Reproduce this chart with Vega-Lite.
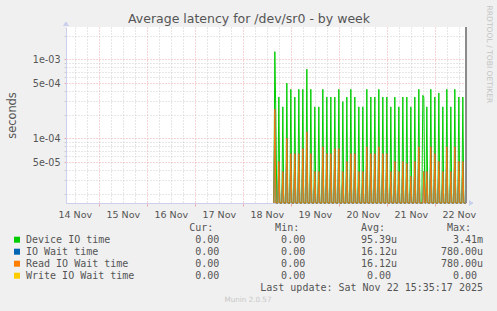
{
  "$schema": "https://vega.github.io/schema/vega-lite/v6.json",
  "autosize": "none",
  "width": 400,
  "height": 176,
  "padding": {"left": 66, "top": 27, "right": 31, "bottom": 108},
  "background": "#f0f0f0",
  "config": {
    "view": {"fill": "white", "stroke": null},
    "font": "DejaVu Sans",
    "axis": {"labelFont": "DejaVu Sans", "titleFont": "DejaVu Sans"}
  },
  "title": {
    "text": "Average latency for /dev/sr0 - by week",
    "fontSize": 12.5,
    "fontWeight": "normal",
    "color": "#555555",
    "anchor": "middle",
    "frame": "group",
    "dx": -17,
    "dy": 24
  },
  "datasets": {
    "lat": [
      {"t":"2025-11-18T15:30Z","d":0,"r":0},
      {"t":"2025-11-18T16:00Z","d":1.25e-3,"r":2.33e-4},
      {"t":"2025-11-18T16:30Z","d":2.0e-4,"r":0},
      {"t":"2025-11-18T17:00Z","d":0,"r":0},
      {"t":"2025-11-18T17:30Z","d":0,"r":0},
      {"t":"2025-11-18T18:00Z","d":3.33e-4,"r":5.1e-5},
      {"t":"2025-11-18T18:30Z","d":0,"r":0},
      {"t":"2025-11-18T19:00Z","d":0,"r":0},
      {"t":"2025-11-18T19:30Z","d":0,"r":0},
      {"t":"2025-11-18T20:00Z","d":2.5e-4,"r":3.8e-5},
      {"t":"2025-11-18T20:30Z","d":0,"r":0},
      {"t":"2025-11-18T21:00Z","d":0,"r":0},
      {"t":"2025-11-18T21:30Z","d":0,"r":0},
      {"t":"2025-11-18T22:00Z","d":5.0e-4,"r":1.0e-4},
      {"t":"2025-11-18T22:30Z","d":0,"r":0},
      {"t":"2025-11-18T23:00Z","d":0,"r":0},
      {"t":"2025-11-18T23:30Z","d":0,"r":0},
      {"t":"2025-11-19T00:00Z","d":4.17e-4,"r":6.4e-5},
      {"t":"2025-11-19T00:30Z","d":0,"r":0},
      {"t":"2025-11-19T01:00Z","d":0,"r":0},
      {"t":"2025-11-19T01:30Z","d":0,"r":0},
      {"t":"2025-11-19T02:00Z","d":3.33e-4,"r":6.4e-5},
      {"t":"2025-11-19T02:30Z","d":0,"r":0},
      {"t":"2025-11-19T03:00Z","d":0,"r":0},
      {"t":"2025-11-19T03:30Z","d":0,"r":0},
      {"t":"2025-11-19T04:00Z","d":4.17e-4,"r":6.4e-5},
      {"t":"2025-11-19T04:30Z","d":0,"r":0},
      {"t":"2025-11-19T05:00Z","d":0,"r":0},
      {"t":"2025-11-19T05:30Z","d":0,"r":0},
      {"t":"2025-11-19T06:00Z","d":4.17e-4,"r":7.4e-5},
      {"t":"2025-11-19T06:30Z","d":0,"r":0},
      {"t":"2025-11-19T07:00Z","d":0,"r":0},
      {"t":"2025-11-19T07:30Z","d":0,"r":0},
      {"t":"2025-11-19T08:00Z","d":7.5e-4,"r":1.21e-4},
      {"t":"2025-11-19T08:30Z","d":0,"r":0},
      {"t":"2025-11-19T09:00Z","d":0,"r":0},
      {"t":"2025-11-19T09:30Z","d":0,"r":0},
      {"t":"2025-11-19T10:00Z","d":4.17e-4,"r":6.4e-5},
      {"t":"2025-11-19T10:30Z","d":0,"r":0},
      {"t":"2025-11-19T11:00Z","d":0,"r":0},
      {"t":"2025-11-19T11:30Z","d":0,"r":0},
      {"t":"2025-11-19T12:00Z","d":2.5e-4,"r":3.8e-5},
      {"t":"2025-11-19T12:30Z","d":0,"r":0},
      {"t":"2025-11-19T13:00Z","d":0,"r":0},
      {"t":"2025-11-19T13:30Z","d":0,"r":0},
      {"t":"2025-11-19T14:00Z","d":2.5e-4,"r":3.8e-5},
      {"t":"2025-11-19T14:30Z","d":0,"r":0},
      {"t":"2025-11-19T15:00Z","d":0,"r":0},
      {"t":"2025-11-19T15:30Z","d":0,"r":0},
      {"t":"2025-11-19T16:00Z","d":4.17e-4,"r":7.8e-5},
      {"t":"2025-11-19T16:30Z","d":0,"r":0},
      {"t":"2025-11-19T17:00Z","d":0,"r":0},
      {"t":"2025-11-19T17:30Z","d":0,"r":0},
      {"t":"2025-11-19T18:00Z","d":3.33e-4,"r":6.4e-5},
      {"t":"2025-11-19T18:30Z","d":0,"r":0},
      {"t":"2025-11-19T19:00Z","d":0,"r":0},
      {"t":"2025-11-19T19:30Z","d":0,"r":0},
      {"t":"2025-11-19T20:00Z","d":3.33e-4,"r":6.4e-5},
      {"t":"2025-11-19T20:30Z","d":0,"r":0},
      {"t":"2025-11-19T21:00Z","d":0,"r":0},
      {"t":"2025-11-19T21:30Z","d":0,"r":0},
      {"t":"2025-11-19T22:00Z","d":3.33e-4,"r":7.4e-5},
      {"t":"2025-11-19T22:30Z","d":0,"r":0},
      {"t":"2025-11-19T23:00Z","d":0,"r":0},
      {"t":"2025-11-19T23:30Z","d":0,"r":0},
      {"t":"2025-11-20T00:00Z","d":4.17e-4,"r":7.4e-5},
      {"t":"2025-11-20T00:30Z","d":0,"r":0},
      {"t":"2025-11-20T01:00Z","d":0,"r":0},
      {"t":"2025-11-20T01:30Z","d":0,"r":0},
      {"t":"2025-11-20T02:00Z","d":2.92e-4,"r":3.8e-5},
      {"t":"2025-11-20T02:30Z","d":0,"r":0},
      {"t":"2025-11-20T03:00Z","d":0,"r":0},
      {"t":"2025-11-20T03:30Z","d":0,"r":0},
      {"t":"2025-11-20T04:00Z","d":3.33e-4,"r":5.1e-5},
      {"t":"2025-11-20T04:30Z","d":0,"r":0},
      {"t":"2025-11-20T05:00Z","d":0,"r":0},
      {"t":"2025-11-20T05:30Z","d":0,"r":0},
      {"t":"2025-11-20T06:00Z","d":4.17e-4,"r":6.4e-5},
      {"t":"2025-11-20T06:30Z","d":0,"r":0},
      {"t":"2025-11-20T07:00Z","d":0,"r":0},
      {"t":"2025-11-20T07:30Z","d":0,"r":0},
      {"t":"2025-11-20T08:00Z","d":3.33e-4,"r":6.4e-5},
      {"t":"2025-11-20T08:30Z","d":0,"r":0},
      {"t":"2025-11-20T09:00Z","d":0,"r":0},
      {"t":"2025-11-20T09:30Z","d":0,"r":0},
      {"t":"2025-11-20T10:00Z","d":2.5e-4,"r":3.8e-5},
      {"t":"2025-11-20T10:30Z","d":0,"r":0},
      {"t":"2025-11-20T11:00Z","d":0,"r":0},
      {"t":"2025-11-20T11:30Z","d":0,"r":0},
      {"t":"2025-11-20T12:00Z","d":2.5e-4,"r":3.8e-5},
      {"t":"2025-11-20T12:30Z","d":0,"r":0},
      {"t":"2025-11-20T13:00Z","d":0,"r":0},
      {"t":"2025-11-20T13:30Z","d":0,"r":0},
      {"t":"2025-11-20T14:00Z","d":4.17e-4,"r":7.8e-5},
      {"t":"2025-11-20T14:30Z","d":0,"r":0},
      {"t":"2025-11-20T15:00Z","d":0,"r":0},
      {"t":"2025-11-20T15:30Z","d":0,"r":0},
      {"t":"2025-11-20T16:00Z","d":3.33e-4,"r":6.4e-5},
      {"t":"2025-11-20T16:30Z","d":0,"r":0},
      {"t":"2025-11-20T17:00Z","d":0,"r":0},
      {"t":"2025-11-20T17:30Z","d":0,"r":0},
      {"t":"2025-11-20T18:00Z","d":3.33e-4,"r":6.4e-5},
      {"t":"2025-11-20T18:30Z","d":0,"r":0},
      {"t":"2025-11-20T19:00Z","d":0,"r":0},
      {"t":"2025-11-20T19:30Z","d":0,"r":0},
      {"t":"2025-11-20T20:00Z","d":4.17e-4,"r":7.8e-5},
      {"t":"2025-11-20T20:30Z","d":0,"r":0},
      {"t":"2025-11-20T21:00Z","d":0,"r":0},
      {"t":"2025-11-20T21:30Z","d":0,"r":0},
      {"t":"2025-11-20T22:00Z","d":3.33e-4,"r":6.4e-5},
      {"t":"2025-11-20T22:30Z","d":0,"r":0},
      {"t":"2025-11-20T23:00Z","d":0,"r":0},
      {"t":"2025-11-20T23:30Z","d":0,"r":0},
      {"t":"2025-11-21T00:00Z","d":3.33e-4,"r":6.4e-5},
      {"t":"2025-11-21T00:30Z","d":0,"r":0},
      {"t":"2025-11-21T01:00Z","d":0,"r":0},
      {"t":"2025-11-21T01:30Z","d":0,"r":0},
      {"t":"2025-11-21T02:00Z","d":2.5e-4,"r":3.8e-5},
      {"t":"2025-11-21T02:30Z","d":0,"r":0},
      {"t":"2025-11-21T03:00Z","d":0,"r":0},
      {"t":"2025-11-21T03:30Z","d":0,"r":0},
      {"t":"2025-11-21T04:00Z","d":3.33e-4,"r":5.1e-5},
      {"t":"2025-11-21T04:30Z","d":0,"r":0},
      {"t":"2025-11-21T05:00Z","d":0,"r":0},
      {"t":"2025-11-21T05:30Z","d":0,"r":0},
      {"t":"2025-11-21T06:00Z","d":2.5e-4,"r":3.8e-5},
      {"t":"2025-11-21T06:30Z","d":0,"r":0},
      {"t":"2025-11-21T07:00Z","d":0,"r":0},
      {"t":"2025-11-21T07:30Z","d":0,"r":0},
      {"t":"2025-11-21T08:00Z","d":3.33e-4,"r":5.1e-5},
      {"t":"2025-11-21T08:30Z","d":0,"r":0},
      {"t":"2025-11-21T09:00Z","d":0,"r":0},
      {"t":"2025-11-21T09:30Z","d":0,"r":0},
      {"t":"2025-11-21T10:00Z","d":3.33e-4,"r":4.8e-5},
      {"t":"2025-11-21T10:30Z","d":0,"r":0},
      {"t":"2025-11-21T11:00Z","d":0,"r":0},
      {"t":"2025-11-21T11:30Z","d":0,"r":0},
      {"t":"2025-11-21T12:00Z","d":2.5e-4,"r":3.3e-5},
      {"t":"2025-11-21T12:30Z","d":0,"r":0},
      {"t":"2025-11-21T13:00Z","d":0,"r":0},
      {"t":"2025-11-21T13:30Z","d":0,"r":0},
      {"t":"2025-11-21T14:00Z","d":3.33e-4,"r":5.1e-5},
      {"t":"2025-11-21T14:30Z","d":0,"r":0},
      {"t":"2025-11-21T15:00Z","d":0,"r":0},
      {"t":"2025-11-21T15:30Z","d":0,"r":0},
      {"t":"2025-11-21T16:00Z","d":4.17e-4,"r":7.8e-5},
      {"t":"2025-11-21T16:30Z","d":0,"r":0},
      {"t":"2025-11-21T17:00Z","d":0,"r":0},
      {"t":"2025-11-21T17:30Z","d":0,"r":0},
      {"t":"2025-11-21T18:00Z","d":3.5e-4,"r":0},
      {"t":"2025-11-21T18:30Z","d":3.3e-4,"r":3.8e-5},
      {"t":"2025-11-21T19:00Z","d":0,"r":0},
      {"t":"2025-11-21T19:30Z","d":0,"r":0},
      {"t":"2025-11-21T20:00Z","d":2.5e-4,"r":3.8e-5},
      {"t":"2025-11-21T20:30Z","d":0,"r":0},
      {"t":"2025-11-21T21:00Z","d":0,"r":0},
      {"t":"2025-11-21T21:30Z","d":0,"r":0},
      {"t":"2025-11-21T22:00Z","d":4.17e-4,"r":7.8e-5},
      {"t":"2025-11-21T22:30Z","d":0,"r":0},
      {"t":"2025-11-21T23:00Z","d":0,"r":0},
      {"t":"2025-11-21T23:30Z","d":0,"r":0},
      {"t":"2025-11-22T00:00Z","d":3.33e-4,"r":6.4e-5},
      {"t":"2025-11-22T00:30Z","d":0,"r":0},
      {"t":"2025-11-22T01:00Z","d":0,"r":0},
      {"t":"2025-11-22T01:30Z","d":0,"r":0},
      {"t":"2025-11-22T02:00Z","d":3.75e-4,"r":5.1e-5},
      {"t":"2025-11-22T02:30Z","d":0,"r":0},
      {"t":"2025-11-22T03:00Z","d":0,"r":0},
      {"t":"2025-11-22T03:30Z","d":0,"r":0},
      {"t":"2025-11-22T04:00Z","d":2.5e-4,"r":3.8e-5},
      {"t":"2025-11-22T04:30Z","d":0,"r":0},
      {"t":"2025-11-22T05:00Z","d":0,"r":0},
      {"t":"2025-11-22T05:30Z","d":0,"r":0},
      {"t":"2025-11-22T06:00Z","d":4.17e-4,"r":7.8e-5},
      {"t":"2025-11-22T06:30Z","d":0,"r":0},
      {"t":"2025-11-22T07:00Z","d":0,"r":0},
      {"t":"2025-11-22T07:30Z","d":0,"r":0},
      {"t":"2025-11-22T08:00Z","d":2.5e-4,"r":3.8e-5},
      {"t":"2025-11-22T08:30Z","d":0,"r":0},
      {"t":"2025-11-22T09:00Z","d":0,"r":0},
      {"t":"2025-11-22T09:30Z","d":0,"r":0},
      {"t":"2025-11-22T10:00Z","d":4.17e-4,"r":7.8e-5},
      {"t":"2025-11-22T10:30Z","d":0,"r":0},
      {"t":"2025-11-22T11:00Z","d":0,"r":0},
      {"t":"2025-11-22T11:30Z","d":0,"r":0},
      {"t":"2025-11-22T12:00Z","d":3.33e-4,"r":5.1e-5},
      {"t":"2025-11-22T12:30Z","d":0,"r":0},
      {"t":"2025-11-22T13:00Z","d":0,"r":0},
      {"t":"2025-11-22T13:30Z","d":0,"r":0},
      {"t":"2025-11-22T14:00Z","d":3.33e-4,"r":5.1e-5},
      {"t":"2025-11-22T14:30Z","d":0,"r":0},
      {"t":"2025-11-22T15:00Z","d":0,"r":0},
      {"t":"2025-11-22T15:30Z","d":0,"r":0}
    ],
    "series": [
      {"series": "Device IO time"},
      {"series": "IO Wait time"},
      {"series": "Read IO Wait time"},
      {"series": "Write IO Wait time"}
    ],
    "headers": [
      {"stat": "Cur", "h": "Cur:"},
      {"stat": "Min", "h": "Min:"},
      {"stat": "Avg", "h": "Avg:"},
      {"stat": "Max", "h": "Max:"}
    ],
    "stats": [
      {"series": "Device IO time", "stat": "Cur", "num": "0.00", "unit": ""},
      {"series": "Device IO time", "stat": "Min", "num": "0.00", "unit": ""},
      {"series": "Device IO time", "stat": "Avg", "num": "95.39", "unit": "u"},
      {"series": "Device IO time", "stat": "Max", "num": "3.41", "unit": "m"},
      {"series": "IO Wait time", "stat": "Cur", "num": "0.00", "unit": ""},
      {"series": "IO Wait time", "stat": "Min", "num": "0.00", "unit": ""},
      {"series": "IO Wait time", "stat": "Avg", "num": "16.12", "unit": "u"},
      {"series": "IO Wait time", "stat": "Max", "num": "780.00", "unit": "u"},
      {"series": "Read IO Wait time", "stat": "Cur", "num": "0.00", "unit": ""},
      {"series": "Read IO Wait time", "stat": "Min", "num": "0.00", "unit": ""},
      {"series": "Read IO Wait time", "stat": "Avg", "num": "16.12", "unit": "u"},
      {"series": "Read IO Wait time", "stat": "Max", "num": "780.00", "unit": "u"},
      {"series": "Write IO Wait time", "stat": "Cur", "num": "0.00", "unit": ""},
      {"series": "Write IO Wait time", "stat": "Min", "num": "0.00", "unit": ""},
      {"series": "Write IO Wait time", "stat": "Avg", "num": "0.00", "unit": ""},
      {"series": "Write IO Wait time", "stat": "Max", "num": "0.00", "unit": ""}
    ],
    "notes": [
      {"row": "upd", "note": "Last update: Sat Nov 22 15:35:17 2025"},
      {"row": "munin", "note": "Munin 2.0.57"}
    ]
  },
  "layer": [
    {
      "data": {"name": "lat"},
      "encoding": {
        "x": {
          "field": "t",
          "type": "temporal",
          "scale": {
            "type": "utc",
            "domain": [
              {"year": 2025, "month": 11, "date": 14, "hours": 7, "minutes": 35, "utc": true},
              {"year": 2025, "month": 11, "date": 22, "hours": 15, "minutes": 35, "utc": true}
            ]
          },
          "axis": {
            "title": null,
            "values": [1763121600000, 1763143200000, 1763164800000, 1763186400000, 1763208000000, 1763229600000, 1763251200000, 1763272800000, 1763294400000, 1763316000000, 1763337600000, 1763359200000, 1763380800000, 1763402400000, 1763424000000, 1763445600000, 1763467200000, 1763488800000, 1763510400000, 1763532000000, 1763553600000, 1763575200000, 1763596800000, 1763618400000, 1763640000000, 1763661600000, 1763683200000, 1763704800000, 1763726400000, 1763748000000, 1763769600000, 1763791200000, 1763812800000],
            "labelExpr": "utchours(datum.value) == 12 ? utcFormat(datum.value, '%d %b') : ''",
            "labelOverlap": false,
            "labelFlush": false,
            "labelFontSize": 9.5,
            "labelColor": "#555555",
            "labelPadding": 3,
            "grid": true,
            "gridDash": [1, 2],
            "gridColor": {"condition": {"test": "utchours(datum.value) == 0", "value": "#eeaaaa"}, "value": "#cfcfcf"},
            "tickSize": 3,
            "tickColor": {"condition": {"test": "utchours(datum.value) == 0", "value": "#eeaaaa"}, "value": "transparent"},
            "domainColor": "#ccd0ee"
          }
        }
      },
      "layer": [
        {
          "mark": {"type": "line", "strokeWidth": 1, "color": "#00cc00"},
          "encoding": {
            "y": {
              "field": "d",
              "type": "quantitative",
              "scale": {"type": "log", "domain": [1.517e-5, 2.564e-3], "clamp": true},
              "axis": {
                "title": "seconds",
                "titleFontSize": 11.4,
                "titleFontWeight": "normal",
                "titleColor": "#555555",
                "titleX": -54,
                "titleY": 88,
                "titleAngle": -90,
                "titleAlign": "center",
                "titleBaseline": "middle",
                "values": [2e-5, 3e-5, 4e-5, 5e-5, 6e-5, 7e-5, 8e-5, 9e-5, 1e-4, 2e-4, 3e-4, 4e-4, 5e-4, 6e-4, 7e-4, 8e-4, 9e-4, 1e-3, 2e-3],
                "labelExpr": "datum.value == 0.001 ? '1e-03' : datum.value == 0.0005 ? '5e-04' : datum.value == 0.0001 ? '1e-04' : datum.value == 0.00005 ? '5e-05' : ''",
                "labelOverlap": false,
                "labelFlush": false,
                "labelFontSize": 9.6,
                "labelColor": "#555555",
                "labelPadding": 4,
                "tickSize": 2,
                "tickColor": {"condition": {"test": "datum.value == 0.001 || datum.value == 0.0005 || datum.value == 0.0001 || datum.value == 0.00005", "value": "#eeaaaa"}, "value": "#cfcfcf"},
                "grid": true,
                "gridDash": [1, 2],
                "gridColor": {"condition": {"test": "datum.value == 0.001 || datum.value == 0.0005 || datum.value == 0.0001 || datum.value == 0.00005", "value": "#eeaaaa"}, "value": "#cfcfcf"},
                "domainColor": "#ccd0ee"
              }
            }
          }
        },
        {
          "mark": {"type": "line", "strokeWidth": 1, "color": "#0066b3"},
          "encoding": {
            "y": {
              "field": "r",
              "type": "quantitative",
              "scale": {"type": "log", "domain": [1.517e-5, 2.564e-3], "clamp": true},
              "axis": {
                "orient": "right",
                "title": "RRDTOOL / TOBI OETIKER",
                "labels": false,
                "ticks": false,
                "domain": false,
                "grid": false,
                "titleFontSize": 7.6,
                "titleFontWeight": "normal",
                "titleColor": "#c4c4c4",
                "titleAngle": 90,
                "titleX": 22,
                "titleY": -22,
                "titleAlign": "left",
                "titleBaseline": "middle"
              }
            }
          }
        },
        {
          "mark": {"type": "line", "strokeWidth": 1, "color": "#ff8000"},
          "encoding": {
            "y": {
              "field": "r",
              "type": "quantitative",
              "scale": {"type": "log", "domain": [1.517e-5, 2.564e-3], "clamp": true},
              "axis": null
            }
          }
        },
        {
          "mark": {"type": "rule", "color": "#8a8a8a", "strokeWidth": 1},
          "encoding": {
            "x": {"datum": {"year": 2025, "month": 11, "date": 22, "hours": 15, "minutes": 35, "utc": true}, "type": "temporal"}
          }
        },
        {
          "mark": {"type": "point", "shape": "triangle-up", "size": 22, "filled": true, "opacity": 1, "color": "#ccd0ee"},
          "encoding": {
            "x": {"datum": {"year": 2025, "month": 11, "date": 14, "hours": 7, "minutes": 35, "utc": true}, "type": "temporal"},
            "y": {"datum": 2.564e-3, "type": "quantitative", "scale": {"type": "log", "domain": [1.517e-5, 2.564e-3], "clamp": true}, "axis": null},
            "yOffset": {"value": -3}
          }
        },
        {
          "mark": {"type": "point", "shape": "triangle-right", "size": 22, "filled": true, "opacity": 1, "color": "#ccd0ee"},
          "encoding": {
            "x": {"datum": {"year": 2025, "month": 11, "date": 22, "hours": 15, "minutes": 35, "utc": true}, "type": "temporal"},
            "y": {"datum": 1.517e-5, "type": "quantitative", "scale": {"type": "log", "domain": [1.517e-5, 2.564e-3], "clamp": true}, "axis": null},
            "xOffset": {"value": 5}
          }
        }
      ],
      "resolve": {"axis": {"y": "independent"}}
    },
    {
      "layer": [
        {
          "data": {"name": "series"},
          "encoding": {
            "x": {"datum": "swatch", "type": "nominal", "scale": {"type": "point", "domain": ["swatch", "name"], "range": [-49, -40], "padding": 0}, "axis": null},
            "y": {"field": "series", "type": "nominal", "scale": {"type": "point", "domain": ["hdr", "Device IO time", "IO Wait time", "Read IO Wait time", "Write IO Wait time", "upd", "munin"], "range": [200.7, 272.7], "padding": 0}, "axis": null},
            "color": {"field": "series", "type": "nominal", "scale": {"domain": ["Device IO time", "IO Wait time", "Read IO Wait time", "Write IO Wait time"], "range": ["#00cc00", "#0066b3", "#ff8000", "#ffcc00"]}, "legend": null}
          },
          "mark": {"type": "square", "size": 36, "opacity": 1, "filled": true}
        },
        {
          "data": {"name": "series"},
          "mark": {"type": "text", "align": "left", "baseline": "middle", "font": "DejaVu Sans Mono", "fontSize": 10, "color": "#555555"},
          "encoding": {
            "x": {"datum": "name", "type": "nominal", "scale": {"type": "point", "domain": ["swatch", "name"], "range": [-49, -40], "padding": 0}, "axis": null},
            "y": {"field": "series", "type": "nominal", "scale": {"type": "point", "domain": ["hdr", "Device IO time", "IO Wait time", "Read IO Wait time", "Write IO Wait time", "upd", "munin"], "range": [200.7, 272.7], "padding": 0}, "axis": null},
            "text": {"field": "series"}
          }
        },
        {
          "layer": [
            {
              "data": {"name": "headers"},
              "mark": {"type": "text", "align": "right", "baseline": "middle", "font": "DejaVu Sans Mono", "fontSize": 10, "color": "#555555", "dx": -6},
              "encoding": {
                "x": {"field": "stat", "type": "nominal", "scale": {"type": "point", "domain": ["Cur", "Min", "Avg", "Max"], "range": [153.3, 411], "padding": 0}, "axis": null},
                "y": {"datum": "hdr", "type": "nominal", "scale": {"type": "point", "domain": ["hdr", "Device IO time", "IO Wait time", "Read IO Wait time", "Write IO Wait time", "upd", "munin"], "range": [200.7, 272.7], "padding": 0}, "axis": null},
                "text": {"field": "h"}
              }
            },
            {
              "data": {"name": "stats"},
              "mark": {"type": "text", "align": "right", "baseline": "middle", "font": "DejaVu Sans Mono", "fontSize": 10, "color": "#555555"},
              "encoding": {
                "x": {"field": "stat", "type": "nominal", "scale": {"type": "point", "domain": ["Cur", "Min", "Avg", "Max"], "range": [153.3, 411], "padding": 0}, "axis": null},
                "y": {"field": "series", "type": "nominal", "scale": {"type": "point", "domain": ["hdr", "Device IO time", "IO Wait time", "Read IO Wait time", "Write IO Wait time", "upd", "munin"], "range": [200.7, 272.7], "padding": 0}, "axis": null},
                "text": {"field": "num"}
              }
            },
            {
              "data": {"name": "stats"},
              "mark": {"type": "text", "align": "left", "baseline": "middle", "font": "DejaVu Sans Mono", "fontSize": 10, "color": "#555555"},
              "encoding": {
                "x": {"field": "stat", "type": "nominal", "scale": {"type": "point", "domain": ["Cur", "Min", "Avg", "Max"], "range": [153.3, 411], "padding": 0}, "axis": null},
                "y": {"field": "series", "type": "nominal", "scale": {"type": "point", "domain": ["hdr", "Device IO time", "IO Wait time", "Read IO Wait time", "Write IO Wait time", "upd", "munin"], "range": [200.7, 272.7], "padding": 0}, "axis": null},
                "text": {"field": "unit"}
              }
            },
            {
              "data": {"name": "notes"},
              "transform": [{"filter": "datum.row == 'upd'"}],
              "mark": {"type": "text", "align": "right", "baseline": "middle", "font": "DejaVu Sans Mono", "fontSize": 10, "color": "#555555", "dx": 6},
              "encoding": {
                "x": {"datum": "Max", "type": "nominal", "scale": {"type": "point", "domain": ["Cur", "Min", "Avg", "Max"], "range": [153.3, 411], "padding": 0}, "axis": null},
                "y": {"field": "row", "type": "nominal", "scale": {"type": "point", "domain": ["hdr", "Device IO time", "IO Wait time", "Read IO Wait time", "Write IO Wait time", "upd", "munin"], "range": [200.7, 272.7], "padding": 0}, "axis": null},
                "text": {"field": "note"}
              }
            }
          ]
        },
        {
          "data": {"name": "notes"},
          "transform": [{"filter": "datum.row == 'munin'"}],
          "mark": {"type": "text", "align": "center", "baseline": "middle", "font": "DejaVu Sans", "fontSize": 7.2, "color": "#c8c8c8", "dx": -18},
          "encoding": {
            "y": {"field": "row", "type": "nominal", "scale": {"type": "point", "domain": ["hdr", "Device IO time", "IO Wait time", "Read IO Wait time", "Write IO Wait time", "upd", "munin"], "range": [200.7, 272.7], "padding": 0}, "axis": null},
            "text": {"field": "note"}
          }
        }
      ],
      "resolve": {"scale": {"x": "independent"}}
    }
  ],
  "resolve": {"scale": {"x": "independent", "y": "independent", "color": "independent"}}
}
